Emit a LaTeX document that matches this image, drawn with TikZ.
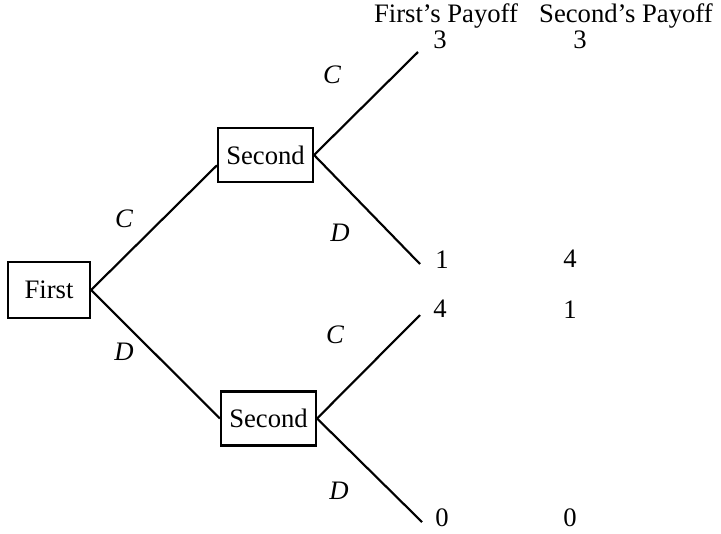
\documentclass[tikz,border=0pt]{standalone}
\usepackage{fontspec}
\setmainfont{Liberation Serif}
\begin{document}
\begin{tikzpicture}[x=0.75pt,y=-0.75pt,
  player/.style={draw,line width=1.6pt,inner sep=0pt,minimum width=71.25pt,minimum height=40.5pt},
  branch/.style={line width=1.6pt},
  move/.style={font=\fontsize{20}{23}\selectfont\itshape,inner sep=0pt},
  pay/.style={font=\fontsize{20}{23}\selectfont,inner sep=0pt},
  every node/.style={font=\fontsize{20}{23}\selectfont}]
\useasboundingbox (0,0) rectangle (721,533);

% decision nodes
\node[player,minimum width=61.5pt,minimum height=42pt] (first) at (49,290) {First};
\node[player] (s1) at (265.5,155) {Second};
\node[player] (s2) at (268.5,418.5) {Second};

% branch ends
\coordinate (cc) at (418,52);
\coordinate (cd) at (420,264);
\coordinate (dc) at (420,315);
\coordinate (dd) at (422,522);

% branches
\draw[branch] (first.east) -- (s1.192);
\draw[branch] (first.east) -- (s2.west);
\draw[branch] (s1.east) -- (cc);
\draw[branch] (s1.east) -- (cd);
\draw[branch] (s2.east) -- (dc);
\draw[branch] (s2.east) -- (dd);

% move labels
\node[move] (m1) at (124,219) {C};
\node[move] (m2) at (124,352) {D};
\node[move] (m3) at (332,75) {C};
\node[move] (m4) at (340,233) {D};
\node[move] (m5) at (335,335) {C};
\node[move] (m6) at (339,491) {D};

% payoff table
\node[pay] (h1) at (446,16) {First’s Payoff};
\node[pay] (h2) at (626,16) {Second’s Payoff};
\node[pay] (a1) at (440,40) {3};
\node[pay] (b1) at (580,40) {3};
\node[pay] (a2) at (442,260) {1};
\node[pay] (b2) at (570,259) {4};
\node[pay] (a3) at (440,309) {4};
\node[pay] (b3) at (570,310) {1};
\node[pay] (a4) at (442,518) {0};
\node[pay] (b4) at (570,518) {0};
\end{tikzpicture}
\end{document}
